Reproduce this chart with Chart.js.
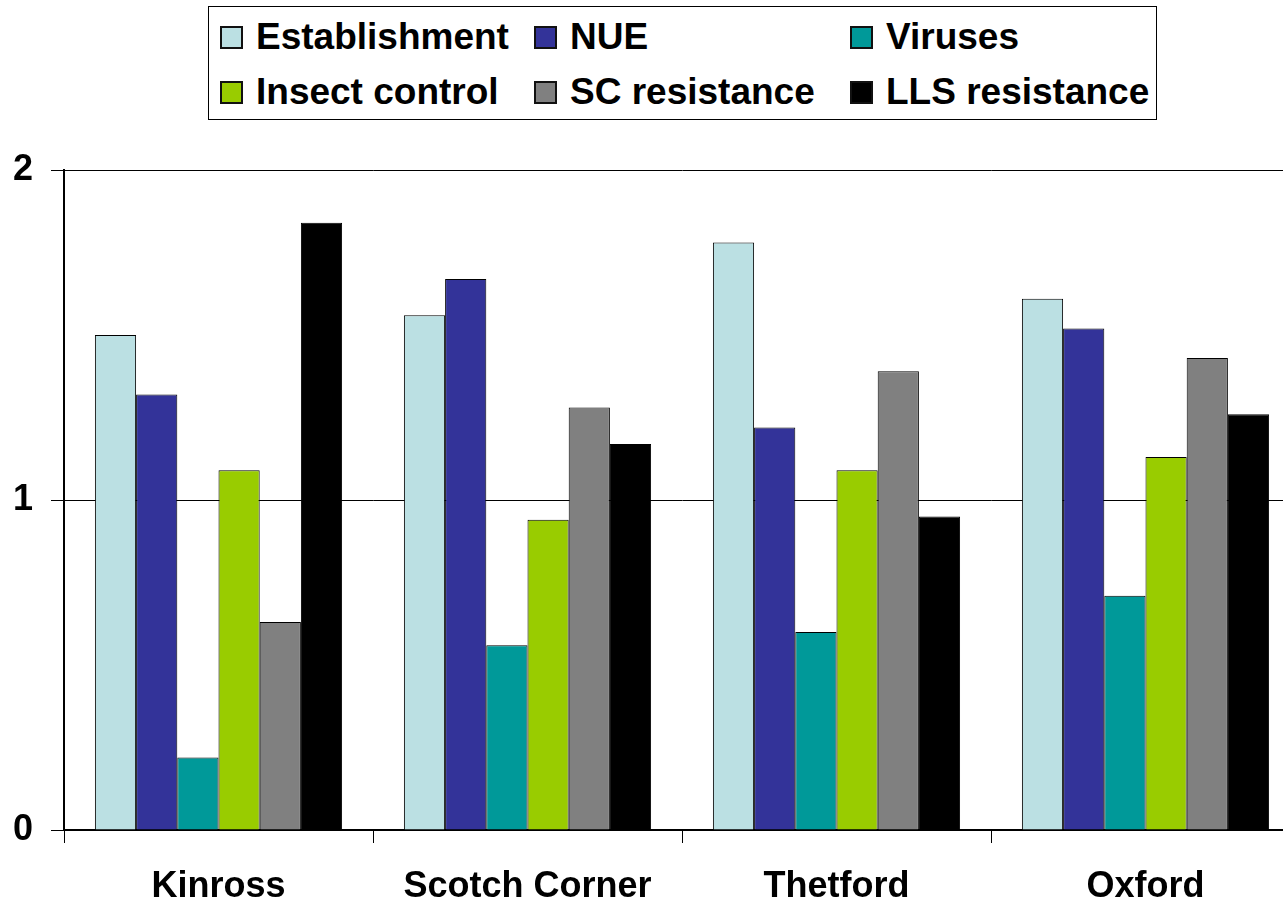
<!DOCTYPE html>
<html>
<head>
<meta charset="utf-8">
<script src="https://cdn.jsdelivr.net/npm/chart.js@4/dist/chart.umd.min.js"></script>
<style>
  html, body { margin: 0; padding: 0; background: #fff; overflow: hidden; }
  #wrap { position: relative; width: 1300px; height: 905px; }
  #legend {
    position: absolute; left: 208px; top: 6px; width: 949px; height: 114px;
    border: 1px solid #000; box-sizing: border-box; background: #fff;
  }
  .item {
    position: absolute; display: flex; align-items: center;
    font: bold 37px "Liberation Sans", Arial, sans-serif; color: #000; white-space: nowrap;
  }
  .item span.box {
    display: inline-block; width: 23px; height: 23px; border: 2px solid #111;
    box-sizing: border-box; margin-right: 13px;
  }
</style>
</head>
<body>
<div id="wrap">
  <canvas id="chart" width="1300" height="905"></canvas>
  <div id="legend"></div>
</div>
<script>
// 数据
const sites = ['Kinross', 'Scotch Corner', 'Thetford', 'Oxford'];
const traits = ['Establishment', 'NUE', 'Viruses', 'Insect control', 'SC resistance', 'LLS resistance'];
const establishment = [1.50, 1.56, 1.78, 1.61];
const nue           = [1.32, 1.67, 1.22, 1.52];
const viruses       = [0.22, 0.56, 0.60, 0.71];
const insectControl = [1.09, 0.94, 1.09, 1.13];
const scResistance  = [0.63, 1.28, 1.39, 1.43];
const llsResistance = [1.84, 1.17, 0.95, 1.26];
const yTicks = [0, 1, 2];

const seriesValues = [establishment, nue, viruses, insectControl, scResistance, llsResistance];
const colors = ['#BBE0E3', '#333399', '#009999', '#99CC00', '#808080', '#000000'];

const datasets = traits.map((name, i) => ({
  label: name,
  data: seriesValues[i],
  backgroundColor: colors[i],
  borderColor: '#000000',
  borderWidth: 1,
  barPercentage: 1.0,
  categoryPercentage: 0.8
}));

// 图例 (三列两行)
const legendCols = [11, 325, 641];
const legendRows = [30, 85];
const legendEl = document.getElementById('legend');
traits.forEach((name, i) => {
  const div = document.createElement('div');
  div.className = 'item';
  div.style.left = legendCols[i % 3] + 'px';
  div.style.top = (legendRows[Math.floor(i / 3)] - 22) + 'px';
  div.style.height = '44px';
  div.innerHTML = '<span class="box" style="background:' + colors[i] + '"></span>' + name;
  legendEl.appendChild(div);
});

const font = { family: '"Liberation Sans", Arial, sans-serif', size: 36, weight: 'bold' };

new Chart(document.getElementById('chart').getContext('2d'), {
  type: 'bar',
  data: { labels: sites, datasets: datasets },
  options: {
    responsive: false,
    animation: false,
    layout: { padding: { top: 170, right: 0, bottom: 0, left: 0 } },
    plugins: { legend: { display: false }, tooltip: { enabled: false } },
    scales: {
      x: {
        grid: {
          offset: true,
          drawOnChartArea: false,
          drawTicks: true,
          tickLength: 13,
          color: '#000',
          lineWidth: 1
        },
        border: { display: true, color: '#000', width: 2 },
        ticks: { color: '#000', font: font, padding: 22, maxRotation: 0 },
        afterFit: function(scale) { scale.height = 75; }
      },
      y: {
        min: 0,
        max: 2,
        afterBuildTicks: function(scale) { scale.ticks = yTicks.map(v => ({ value: v })); },
        grid: {
          color: '#000',
          lineWidth: 1,
          drawTicks: true,
          tickLength: 13
        },
        border: { display: true, color: '#000', width: 2 },
        ticks: { color: '#000', font: font, padding: 18 },
        afterFit: function(scale) { scale.width = 64; }
      }
    }
  }
});
</script>
</body>
</html>
